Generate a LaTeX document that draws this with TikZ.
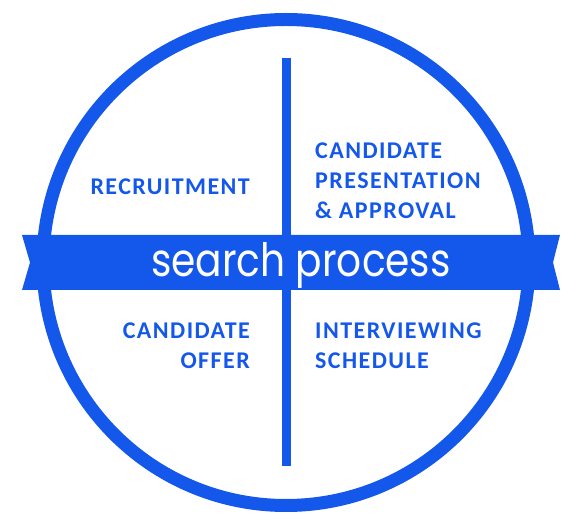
\documentclass[tikz,border=0pt]{standalone}
\usepackage{fontspec}
\usepackage{tikz}
\usetikzlibrary{positioning, calc}
\newfontfamily\labfont[LetterSpace=6]{Carlito}
\newfontfamily\banfont{Poppins}
\definecolor{procblue}{RGB}{20,87,235}

\begin{document}
\begin{tikzpicture}[x=1pt,y=1pt,
  ring/.style={draw=procblue,line width=13pt},
  divider/.style={draw=procblue,line width=9pt},
  quad/.style={text=procblue,inner sep=0pt,font=\labfont\bfseries\fontsize{24}{30}\selectfont},
  bannertext/.style={text=white,inner sep=0pt,xscale=0.85,transform shape,
    font=\banfont\fontsize{46}{50}\selectfont}]

% --- Margini
\useasboundingbox (-286,-264.5) rectangle (290,262.5);

% --- Cerchio e divisore verticale
\draw[ring] (0,0) circle (243);
\draw[divider] (1,204.5) -- (1,-203.5);

% --- Nastro
\fill[procblue] (-264,27.5) -- (274,27.5) -- (267,0) -- (274,-27.5)
  -- (-264,-27.5) -- (-256,0) -- cycle;
\node[bannertext,anchor=base] (search) at (15,-14.5) {search process};

% --- Quadranti
\node[quad,anchor=north east] (recruit) at (-36,83.5) {RECRUITMENT};
\node[quad,anchor=north west,align=left] (present) at (29,119.5)
  {CANDIDATE\\PRESENTATION\\\& APPROVAL};
\node[quad,anchor=north east,align=right] (offer) at (-36,-60.5)
  {CANDIDATE\\OFFER};
\node[quad,anchor=north west,align=left] (interview) at (29,-60.5)
  {INTERVIEWING\\SCHEDULE};

\end{tikzpicture}
\end{document}
